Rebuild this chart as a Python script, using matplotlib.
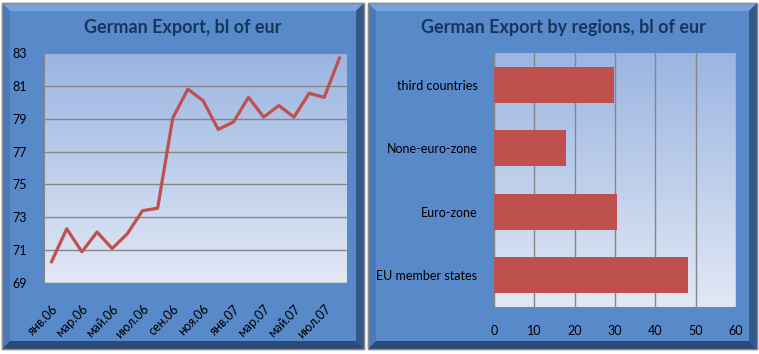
import numpy as np
import matplotlib.pyplot as plt
from matplotlib.patches import Polygon, Rectangle
from matplotlib.colors import LinearSegmentedColormap

# line chart data
months = ['янв.06', 'фев.06', 'мар.06', 'апр.06', 'май.06', 'июн.06', 'июл.06', 'авг.06',
          'сен.06', 'окт.06', 'ноя.06', 'дек.06', 'янв.07', 'фев.07', 'мар.07', 'апр.07',
          'май.07', 'июн.07', 'июл.07', 'авг.07']
export = [70.3, 72.3, 70.9, 72.1, 71.1, 72.0, 73.4, 73.55, 79.05, 80.8,
          80.1, 78.35, 78.8, 80.3, 79.1, 79.8, 79.1, 80.55, 80.3, 82.7]

# bar chart data
regions = ['EU member states', 'Euro-zone', 'None-euro-zone', 'third countries']
region_values = [48.0, 30.5, 17.8, 29.7]

W, H = 759, 354
FACE = '#5889c9'
TITLE_C = '#17365d'
LINE_C = '#c0504d'

plt.rcParams['font.family'] = ['Lato', 'DejaVu Sans']

fig = plt.figure(figsize=(W / 100, H / 100), dpi=100)
fig.patch.set_facecolor('white')

bg = fig.add_axes([0, 0, 1, 1])
bg.set_xlim(0, W)
bg.set_ylim(H, 0)
bg.axis('off')


def panel(x0, y0, x1, y1, w=8):
    bg.add_patch(Rectangle((x0, y0), x1 - x0, y1 - y0, facecolor=FACE,
                           edgecolor='#8a8a8a', lw=1))
    bg.add_patch(Polygon([(x0, y0), (x1, y0), (x1 - w, y0 + w), (x0 + w, y0 + w)],
                         closed=True, facecolor='#77a2dc', lw=0))
    bg.add_patch(Polygon([(x0, y0), (x0 + w, y0 + w), (x0 + w, y1 - w), (x0, y1)],
                         closed=True, facecolor='#4b7abb', lw=0))
    bg.add_patch(Polygon([(x1, y0), (x1, y1), (x1 - w, y1 - w), (x1 - w, y0 + w)],
                         closed=True, facecolor='#34578a', lw=0))
    bg.add_patch(Polygon([(x0, y1), (x1, y1), (x1 - w, y1 - w), (x0 + w, y1 - w)],
                         closed=True, facecolor='#2b4a78', lw=0))
    bg.add_patch(Rectangle((x0, y0), x1 - x0, y1 - y0, facecolor='none',
                           edgecolor='#8a8a8a', lw=1))


panel(2, 3, 364, 349)
panel(368, 3, 757, 349)


def px_axes(l, t, r, b):
    return fig.add_axes([l / W, 1 - b / H, (r - l) / W, (b - t) / H])


grad = np.linspace(0, 1, 256).reshape(-1, 1)
cmap = LinearSegmentedColormap.from_list('pa', ['#e1e8f5', '#9bb5e1'])


def gradient(ax):
    ax.set_facecolor('none')
    ax.imshow(grad, cmap=cmap, origin='lower', aspect='auto', extent=[0, 1, 0, 1],
              transform=ax.transAxes, zorder=0)


# left: line chart
ax1 = px_axes(44, 53, 347, 283)
gradient(ax1)
x = np.arange(len(months))
ax1.plot(x, export, color=LINE_C, lw=2.3, zorder=3)
ax1.set_xlim(-0.5, len(months) - 0.5)
ax1.set_ylim(69, 83)
ax1.set_yticks(np.arange(69, 84, 2))
ax1.yaxis.grid(True, color='#868686', lw=1)
ax1.set_axisbelow(True)
ax1.set_xticks(x[::2])
ax1.set_xticklabels(months[::2], rotation=45, ha='right', rotation_mode='anchor')
ax1.tick_params(length=0, labelsize=9, colors='black')
ax1.tick_params(axis='x', pad=14)
ax1.tick_params(axis='y', pad=12)
for s in ax1.spines.values():
    s.set_color('#868686')
ax1.spines['top'].set_visible(False)
ax1.spines['right'].set_visible(False)
fig.text(183 / W, 1 - 27 / H, 'German Export, bl of eur', ha='center', va='center',
         fontsize=13, fontweight='bold', color=TITLE_C)

# right: bar chart
ax2 = px_axes(494, 53, 736, 307)
gradient(ax2)
y = np.arange(len(regions))
ax2.barh(y, region_values, height=0.56, color=LINE_C, zorder=3)
ax2.set_xlim(0, 60)
ax2.set_ylim(-0.5, len(regions) - 0.5)
ax2.set_xticks(np.arange(0, 61, 10))
ax2.set_yticks(y)
ax2.set_yticklabels(regions)
ax2.xaxis.grid(True, color='#868686', lw=1)
ax2.set_axisbelow(True)
ax2.tick_params(length=0, labelsize=9, colors='black')
ax2.tick_params(axis='x', pad=13)
ax2.tick_params(axis='y', pad=12)
for s in ax2.spines.values():
    s.set_color('#868686')
ax2.spines['top'].set_visible(False)
ax2.spines['right'].set_visible(False)
fig.text(563 / W, 1 - 27 / H, 'German Export by regions, bl of eur', ha='center',
         va='center', fontsize=13, fontweight='bold', color=TITLE_C)

fig.savefig('out.png', dpi=100)
